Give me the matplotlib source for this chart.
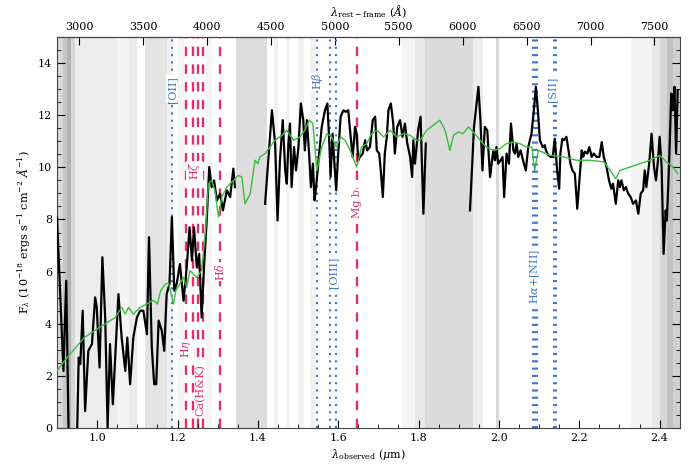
"""
Observed near-IR spectrum with best-fit model and line markers.
"""

import numpy as np
import matplotlib
matplotlib.use("Agg")
import matplotlib.pyplot as plt
from matplotlib.ticker import MultipleLocator, FixedLocator

plt.rcParams['font.family'] = ['DejaVu Serif']
plt.rcParams['mathtext.fontset'] = 'dejavuserif'

nan = np.nan
one_plus_z = 3.183

# observed spectrum (um, 1e-18 erg/s/cm2/A); nan = gap in telluric bands
obs_wave = [0.900, 0.916, 0.923, 0.929, 0.950, 0.954, 0.958, 0.964, 0.970, 0.978,
            0.987, 0.995, 0.999, 1.006, 1.013, 1.020, 1.026, 1.032, 1.039, 1.053,
            1.061, 1.070, 1.075, 1.082, 1.090, 1.099, 1.107, 1.115, 1.124, 1.129,
            1.136, 1.142, 1.147, 1.153, 1.161, 1.167, 1.173, 1.180, 1.186, 1.192,
            1.198, 1.206, 1.215, 1.223, 1.230, 1.236, 1.241, 1.248, 1.254, 1.260,
            1.266, 1.273, 1.279, 1.285, 1.291, 1.298, 1.306, 1.313, 1.323, 1.331,
            1.339, 1.343, 1.380,
            1.418, 1.435, 1.443, 1.449, 1.455, 1.462, 1.468, 1.472, 1.476, 1.480,
            1.484, 1.490, 1.495, 1.501, 1.507, 1.513, 1.517, 1.522, 1.528, 1.532,
            1.537, 1.541, 1.545, 1.551, 1.559, 1.567, 1.573, 1.578, 1.581, 1.586,
            1.590, 1.595, 1.600, 1.606, 1.613, 1.619, 1.625, 1.631, 1.636, 1.642,
            1.646, 1.650, 1.654, 1.661, 1.667, 1.672, 1.679, 1.686, 1.692, 1.696,
            1.702, 1.706, 1.711, 1.716, 1.721, 1.725, 1.731, 1.737, 1.741, 1.747,
            1.754, 1.760, 1.766, 1.772, 1.779, 1.784, 1.787, 1.791, 1.799, 1.805,
            1.812, 1.818, 1.870,
            1.928, 1.938, 1.949, 1.954, 1.959, 1.965, 1.971, 1.978, 1.982, 1.986,
            1.990, 1.994, 1.998, 2.004, 2.009, 2.013, 2.019, 2.025, 2.030, 2.036,
            2.040, 2.044, 2.048, 2.054, 2.060, 2.067, 2.073, 2.081, 2.087, 2.092,
            2.097, 2.102, 2.109, 2.114, 2.117, 2.123, 2.129, 2.134, 2.139, 2.145,
            2.150, 2.153, 2.158, 2.162, 2.168, 2.172, 2.178, 2.183, 2.189, 2.195,
            2.201, 2.206, 2.210, 2.214, 2.220, 2.225, 2.231, 2.236, 2.243, 2.250,
            2.256, 2.261, 2.268, 2.274, 2.280, 2.284, 2.291, 2.297, 2.301, 2.305,
            2.311, 2.316, 2.322, 2.328, 2.334, 2.341, 2.347, 2.353, 2.359, 2.363,
            2.367, 2.374, 2.380, 2.386, 2.391, 2.396, 2.400, 2.405, 2.410, 2.415,
            2.418, 2.423, 2.429, 2.433, 2.437, 2.441, 2.445]
obs_flux = [8.09, 2.19, 5.65, -0.3, -0.3, 2.70, 2.45, 4.50, 0.65, 2.96,
            3.22, 5.01, 4.63, 2.32, 6.55, 4.24, 0.01, 3.22, 0.91, 5.14,
            3.47, 2.19, 3.47, 1.68, 3.47, 4.24, 4.50, 4.50, 3.60, 7.32,
            3.09, 1.68, 1.68, 4.12, 3.73, 2.96, 5.14, 5.53, 8.09, 5.27,
            5.53, 6.29, 4.88, 6.17, 7.70, 6.42, 7.70, 6.17, 6.68, 4.24,
            6.17, 8.09, 10.01, 9.24, 9.50, 8.73, 8.99, 8.35, 9.12, 8.86,
            9.95, 9.24, nan,
            8.60, 12.19, 10.91, 7.96, 10.27, 11.81, 9.88, 9.37, 10.91, 11.68,
            9.24, 10.78, 9.88, 10.78, 12.45, 11.81, 10.65, 11.81, 10.40, 9.24,
            10.14, 8.73, 9.24, 10.27, 11.55, 12.19, 12.45, 10.91, 9.63, 11.29,
            10.27, 9.12, 10.53, 11.94, 12.19, 12.13, 12.19, 11.17, 10.40, 11.55,
            11.29, 10.27, 10.40, 10.53, 11.04, 10.65, 10.78, 11.81, 11.94, 10.65,
            10.53, 9.88, 8.86, 10.53, 11.17, 12.19, 12.45, 11.68, 10.53, 11.55,
            11.81, 11.17, 11.68, 10.91, 10.40, 9.63, 11.04, 10.14, 11.42, 11.94,
            8.22, 10.91, nan,
            8.35, 11.55, 13.09, 11.81, 9.88, 11.55, 11.42, 9.63, 10.14, 10.65,
            10.27, 10.78, 10.14, 10.27, 10.40, 8.86, 10.53, 10.14, 11.68, 10.65,
            10.53, 10.91, 10.40, 10.65, 10.27, 9.88, 10.78, 11.29, 12.19, 13.09,
            12.19, 11.04, 10.78, 10.85, 10.65, 10.46, 10.40, 10.40, 11.10, 9.88,
            9.18, 10.53, 11.10, 11.04, 11.17, 10.78, 10.14, 9.88, 9.76, 8.41,
            9.63, 10.65, 10.40, 10.60, 10.53, 10.78, 10.40, 10.53, 10.40, 10.40,
            10.97, 10.40, 10.01, 9.50, 9.18, 9.37, 8.60, 9.50, 9.24, 9.50,
            9.12, 9.24, 8.99, 8.86, 8.60, 8.73, 8.22, 8.99, 9.12, 9.88,
            9.24, 10.14, 11.29, 10.01, 9.50, 10.27, 11.17, 10.01, 6.68, 8.35,
            7.96, 9.88, 12.83, 12.19, 13.09, 10.53, 12.96]

# best-fit stellar population model
model_wave = [0.900, 0.925, 0.968, 1.006, 1.045, 1.061, 1.070, 1.078, 1.090, 1.107,
              1.124, 1.140, 1.150, 1.158, 1.170, 1.178, 1.190, 1.196, 1.206, 1.215,
              1.223, 1.231, 1.248, 1.260, 1.269, 1.277, 1.285, 1.293, 1.302, 1.310,
              1.323, 1.331, 1.351, 1.360, 1.368, 1.381, 1.393, 1.400, 1.405, 1.418,
              1.430, 1.443, 1.460, 1.472, 1.489, 1.505, 1.517, 1.528, 1.537, 1.547,
              1.559, 1.572, 1.584, 1.595, 1.606, 1.617, 1.630, 1.646, 1.658, 1.671,
              1.683, 1.696, 1.713, 1.729, 1.746, 1.762, 1.779, 1.795, 1.804, 1.820,
              1.837, 1.853, 1.866, 1.878, 1.887, 1.899, 1.911, 1.924, 1.936, 1.953,
              1.969, 1.986, 2.003, 2.019, 2.036, 2.052, 2.069, 2.082, 2.089, 2.098,
              2.128, 2.161, 2.194, 2.227, 2.261, 2.277, 2.291, 2.301, 2.326, 2.351,
              2.376, 2.400, 2.417, 2.433, 2.445]
model_flux = [2.19, 2.70, 3.47, 3.86, 4.24, 4.63, 4.37, 4.63, 4.37, 4.63,
              4.76, 4.90, 4.76, 5.27, 5.53, 5.55, 4.76, 5.27, 5.53, 5.78,
              5.40, 6.04, 5.78, 6.04, 7.45, 9.37, 9.50, 9.12, 8.09, 8.86,
              9.24, 9.37, 9.69, 9.63, 8.60, 8.99, 10.27, 10.14, 10.40, 10.53,
              10.78, 11.04, 11.23, 11.42, 11.04, 11.17, 11.42, 11.81, 11.68, 9.88,
              10.78, 11.29, 11.17, 10.78, 11.17, 11.04, 10.65, 10.01, 10.78, 10.91,
              11.29, 11.42, 11.17, 11.42, 11.17, 11.29, 11.23, 11.04, 11.04, 11.42,
              11.62, 11.81, 11.42, 10.65, 11.23, 11.36, 11.29, 11.55, 11.36, 11.04,
              10.78, 10.65, 10.72, 10.91, 10.97, 10.91, 10.78, 10.78, 9.88, 10.65,
              10.46, 10.40, 10.27, 10.27, 10.21, 9.88, 9.56, 9.88, 10.01, 10.14,
              10.27, 10.46, 10.21, 10.01, 9.76]

# telluric shading: (start um, end um, grey level)
band_lo = [0.900, 0.915, 0.925, 0.935, 0.945, 1.050, 1.080, 1.120, 1.175, 1.200,
           1.270, 1.346, 1.440, 1.470, 1.500, 1.530, 1.760, 1.790, 1.815, 1.935,
           1.993, 2.330, 2.380, 2.400, 2.418, 2.433]
band_hi = [0.915, 0.925, 0.935, 0.945, 1.050, 1.080, 1.100, 1.175, 1.190, 1.215,
           1.285, 1.422, 1.450, 1.480, 1.515, 1.545, 1.790, 1.815, 1.935, 1.960,
           1.999, 2.380, 2.400, 2.418, 2.433, 2.450]
band_grey = [0.85, 0.78, 0.70, 0.84, 0.925, 0.955, 0.92, 0.89, 0.94, 0.955,
             0.955, 0.865, 0.945, 0.95, 0.945, 0.95, 0.955, 0.91, 0.86, 0.925,
             0.85, 0.955, 0.91, 0.84, 0.76, 0.82]

# emission lines (rest-frame A)
em_lines = [3727, 4861, 4959, 5007, 6548, 6563, 6583, 6716, 6731]
em_labels = [("[OII]", 3727, 13.0), (r"H$\beta$", 4861, 13.3),
             ("[OIII]", 4990, 5.97), (r"H$\alpha$+[NII]", 6568, 5.8),
             ("[SII]", 6700, 13.0)]
# absorption lines (rest-frame A)
abs_lines = [3835, 3889, 3934, 3969, 4102, 5175]
abs_labels = [(r"H$\eta$", 3835, 3.04), (r"H$\zeta$", 3905, 9.85),
              ("Ca(H&K)", 3950, 1.46), (r"H$\delta$", 4102, 6.0),
              ("Mg b", 5175, 8.6)]
rest_ticks = [3000, 3500, 4000, 4500, 5000, 5500, 6000, 6500, 7000, 7500]

blue = '#3f78cc'
pink = '#e0306e'

fig = plt.figure(figsize=(7, 4.66), dpi=100)
ax = fig.add_axes([0.0814, 0.0815, 0.8896, 0.8391])

for lo, hi, g in zip(band_lo, band_hi, band_grey):
    ax.axvspan(lo, hi, color=str(g), lw=0, zorder=0)

for lam in em_lines:
    ax.axvline(lam * one_plus_z / 1e4, color=blue, ls=(0, (1, 2.5)), lw=1.5, zorder=1)
for lam in abs_lines:
    ax.axvline(lam * one_plus_z / 1e4, color=pink, ls=(0, (4, 3.5)), lw=1.7, zorder=1)

ax.plot(obs_wave, obs_flux, color='black', lw=1.6, zorder=3)
ax.plot(model_wave, model_flux, color='#3dbb3d', lw=1.0, zorder=4)

for txt, lam, y in em_labels:
    ax.text(lam * one_plus_z / 1e4, y, txt, rotation=90, color=blue, fontsize=8,
            ha='center', va='center', zorder=5,
            bbox=dict(facecolor='white', edgecolor='none', pad=0.6))
for txt, lam, y in abs_labels:
    ax.text(lam * one_plus_z / 1e4, y, txt, rotation=90, color=pink, fontsize=8,
            ha='center', va='center', zorder=5,
            bbox=dict(facecolor='white', edgecolor='none', pad=0.6))

ax.set_xlim(0.9, 2.45)
ax.set_ylim(0, 15)
ax.xaxis.set_major_locator(MultipleLocator(0.2))
ax.xaxis.set_minor_locator(MultipleLocator(0.05))
ax.yaxis.set_major_locator(MultipleLocator(2))
ax.yaxis.set_minor_locator(MultipleLocator(0.5))
ax.tick_params(which='both', direction='in', top=False, right=True, labelsize=8)
ax.tick_params(which='major', length=6, width=0.8)
ax.tick_params(which='minor', length=3, width=0.6)
ax.xaxis.set_major_formatter(plt.FuncFormatter(lambda v, p: f"{v:.1f}"))

ax.set_xlabel(r"$\lambda_{\rm observed}$ ($\mu$m)", fontsize=8, labelpad=3)
ax.set_ylabel(r"F$_\lambda$ (10$^{-18}$ ergs s$^{-1}$ cm$^{-2}$ $\AA^{-1}$)",
              fontsize=8, labelpad=4)

top = ax.secondary_xaxis('top', functions=(lambda x: x * 1e4 / one_plus_z,
                                           lambda r: r * one_plus_z / 1e4))
top.xaxis.set_major_locator(FixedLocator(rest_ticks))
top.tick_params(direction='in', length=6, width=0.8, labelsize=8)
top.set_xlabel(r"$\lambda_{\rm rest-frame}$ ($\AA$)", fontsize=8, labelpad=4)

for s in ax.spines.values():
    s.set_linewidth(0.8)
    s.set_color('#444444')

fig.savefig('out.png', dpi=100)
